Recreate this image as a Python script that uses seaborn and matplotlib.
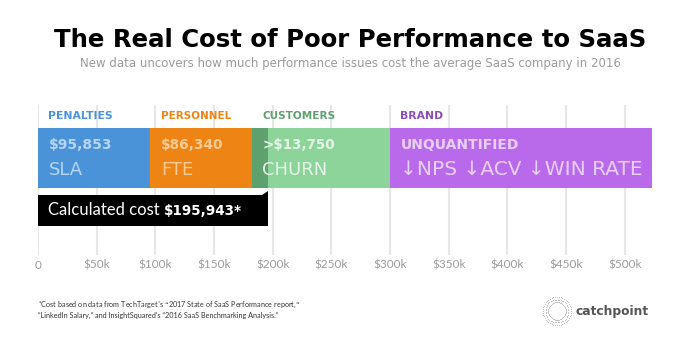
import numpy as np
import pandas as pd
import matplotlib
matplotlib.use("Agg")
import matplotlib.pyplot as plt
import seaborn as sns
from matplotlib.patches import Rectangle, Polygon

# ---- data ----
groups = ["PENALTIES", "PERSONNEL", "CUSTOMERS", "CUSTOMERS", "BRAND"]
segment_values = [95853, 86340, 13750, 104057, 223000]  # last two: rest of customers bar / unquantified brand
value_labels = ["$95,853", "$86,340", ">$13,750", "", "UNQUANTIFIED"]
sub_labels = ["SLA", "FTE", "CHURN", "", "\u2193NPS \u2193ACV \u2193WIN RATE"]
calculated_cost = 195943
tick_values = [0, 50000, 100000, 150000, 200000, 250000, 300000, 350000, 400000, 450000, 500000]
tick_labels = ["0", "$50k", "$100k", "$150k", "$200k", "$250k", "$300k", "$350k", "$400k", "$450k", "$500k"]

bar_colors = ["#4A93D9", "#EE8413", "#5FA06F", "#8DD49B", "#B86AEB"]
text_colors = ["#B5D5F3", "#F8CB95", "#E3F4E6", "#E3F4E6", "#E7CFF8"]
head_colors = {"PENALTIES": "#4A93D9", "PERSONNEL": "#EE8413", "CUSTOMERS": "#5FA06F", "BRAND": "#8E4CB2"}

sns.set_theme(style="white")
plt.rcParams["font.family"] = ["DejaVu Sans"]

W, H = 700, 343
fig = plt.figure(figsize=(7, 3.43), dpi=100)
ax = fig.add_axes([38 / W, 1 - 255 / H, (660 - 38) / W, 150 / H])


def fit(txt, target_px):
    fig.canvas.draw()
    w = txt.get_window_extent().width
    txt.set_fontsize(txt.get_fontsize() * target_px / w)


df = pd.DataFrame({"group": groups, "value": segment_values})
df["end"] = df["value"].cumsum()
df["start"] = df["end"] - df["value"]

# stacked horizontal bar: draw cumulative ends from longest to shortest
for i in range(len(df) - 1, -1, -1):
    sns.barplot(x=[df["end"].iloc[i]], y=["cost"], orient="h", color=bar_colors[i],
                saturation=1, width=1, ax=ax, linewidth=0, zorder=2)

ax.set_xlim(0, 530000)
ax.set_ylim(1.617, -0.883)
ax.set_xticks(tick_values)
ax.set_xticklabels(tick_labels, color="#9a9a9a", fontsize=8.5, family="Lato")
ax.set_yticks([])
ax.set_xlabel("")
ax.set_ylabel("")
ax.tick_params(axis="x", length=0, pad=3.5)
ax.grid(axis="x", color="#e6e6e6", linewidth=1.5)
ax.grid(axis="y", visible=False)
ax.set_axisbelow(True)
for s in ax.spines.values():
    s.set_visible(False)

# target widths (px) measured on reference
head_w = {"PENALTIES": 65, "PERSONNEL": 70, "CUSTOMERS": 73, "BRAND": 43}
val_w = [63, 63, 73, 0, 119]

seen = set()
for i, row in df.iterrows():
    g = row["group"]
    if g not in seen:
        seen.add(g)
        t = ax.annotate(g, (row["start"], -0.7), xytext=(7.5, 0), textcoords="offset points",
                        color=head_colors[g], fontsize=7.5, fontweight="bold", va="center", ha="left")
        fit(t, head_w[g])
    if value_labels[i]:
        t = ax.annotate(value_labels[i], (row["start"], -0.217), xytext=(7.5, 0), textcoords="offset points",
                        color=text_colors[i], fontsize=9.5, fontweight="bold", va="center", ha="left", zorder=5)
        fit(t, val_w[i])
    if sub_labels[i]:
        t = ax.annotate(sub_labels[i], (row["start"], 0.2), xytext=(7.5, 0), textcoords="offset points",
                        color=text_colors[i], fontsize=13, va="center", ha="left", zorder=5)
        if i == 4:
            fit(t, 242)

# calculated cost box with notch
ax.add_patch(Rectangle((0, 0.617), calculated_cost, 0.516, color="black", zorder=4, lw=0))
ax.add_patch(Polygon([(calculated_cost - 5000, 0.617), (calculated_cost, 0.617), (calculated_cost, 0.55)],
                     closed=True, color="black", zorder=4, lw=0))
t = ax.annotate("Calculated cost ", (0, 0.875), xytext=(7.5, 0), textcoords="offset points",
                color="white", fontsize=10.5, va="center", ha="left", zorder=6, family="Lato")
fit(t, 117)
fig.canvas.draw()
bb = t.get_window_extent()
t2 = fig.text(bb.x1 / W, 1 - 211 / H, f"${calculated_cost:,}*", color="white", fontsize=10,
              fontweight="bold", va="center", ha="left", zorder=6)
fit(t2, 78)

# title
tt = fig.text(0.5, 1 - 40 / H, "The Real Cost of Poor Performance to SaaS", ha="center", va="center",
              fontsize=19.5, fontweight="bold", color="black")
fit(tt, 594)
st = fig.text(0.5, 1 - 63 / H, "New data uncovers how much performance issues cost the average SaaS company in 2016",
              ha="center", va="center", fontsize=9, color="#9a9a9a")
fit(st, 540)

# footnote
f1 = fig.text(38 / W, 1 - 305 / H, "$^{*}$Cost based on data from TechTarget\u2019s \u201c2017 State of SaaS Performance report,\u201d",
              fontsize=5.2, color="#333333", va="center", ha="left", family="Lato")
f2 = fig.text(38 / W, 1 - 315 / H, "\u201cLinkedIn Salary,\u201d and InsightSquared\u2019s \u201c2016 SaaS Benchmarking Analysis.\u201d",
              fontsize=5.2, color="#333333", va="center", ha="left", family="Lato")

# logo
lax = fig.add_axes([541 / W, 1 - 327 / H, 32 / W, 32 / H])
lax.set_xlim(-1, 1); lax.set_ylim(-1, 1); lax.axis("off"); lax.set_aspect("equal")
ang = np.linspace(0, 2 * np.pi, 48, endpoint=False)
for r, a0 in [(0.55, 0), (0.72, 0.06), (0.88, 0.0)]:
    lax.scatter(r * np.cos(ang + a0), r * np.sin(ang + a0), s=0.6, color="#bbbbbb", lw=0)
ct = fig.text(576 / W, 1 - 311 / H, "catchpoint", fontsize=12, fontweight="bold", color="#555555",
              va="center", ha="left")
fit(ct, 73)

fig.savefig("out.png", dpi=100)
